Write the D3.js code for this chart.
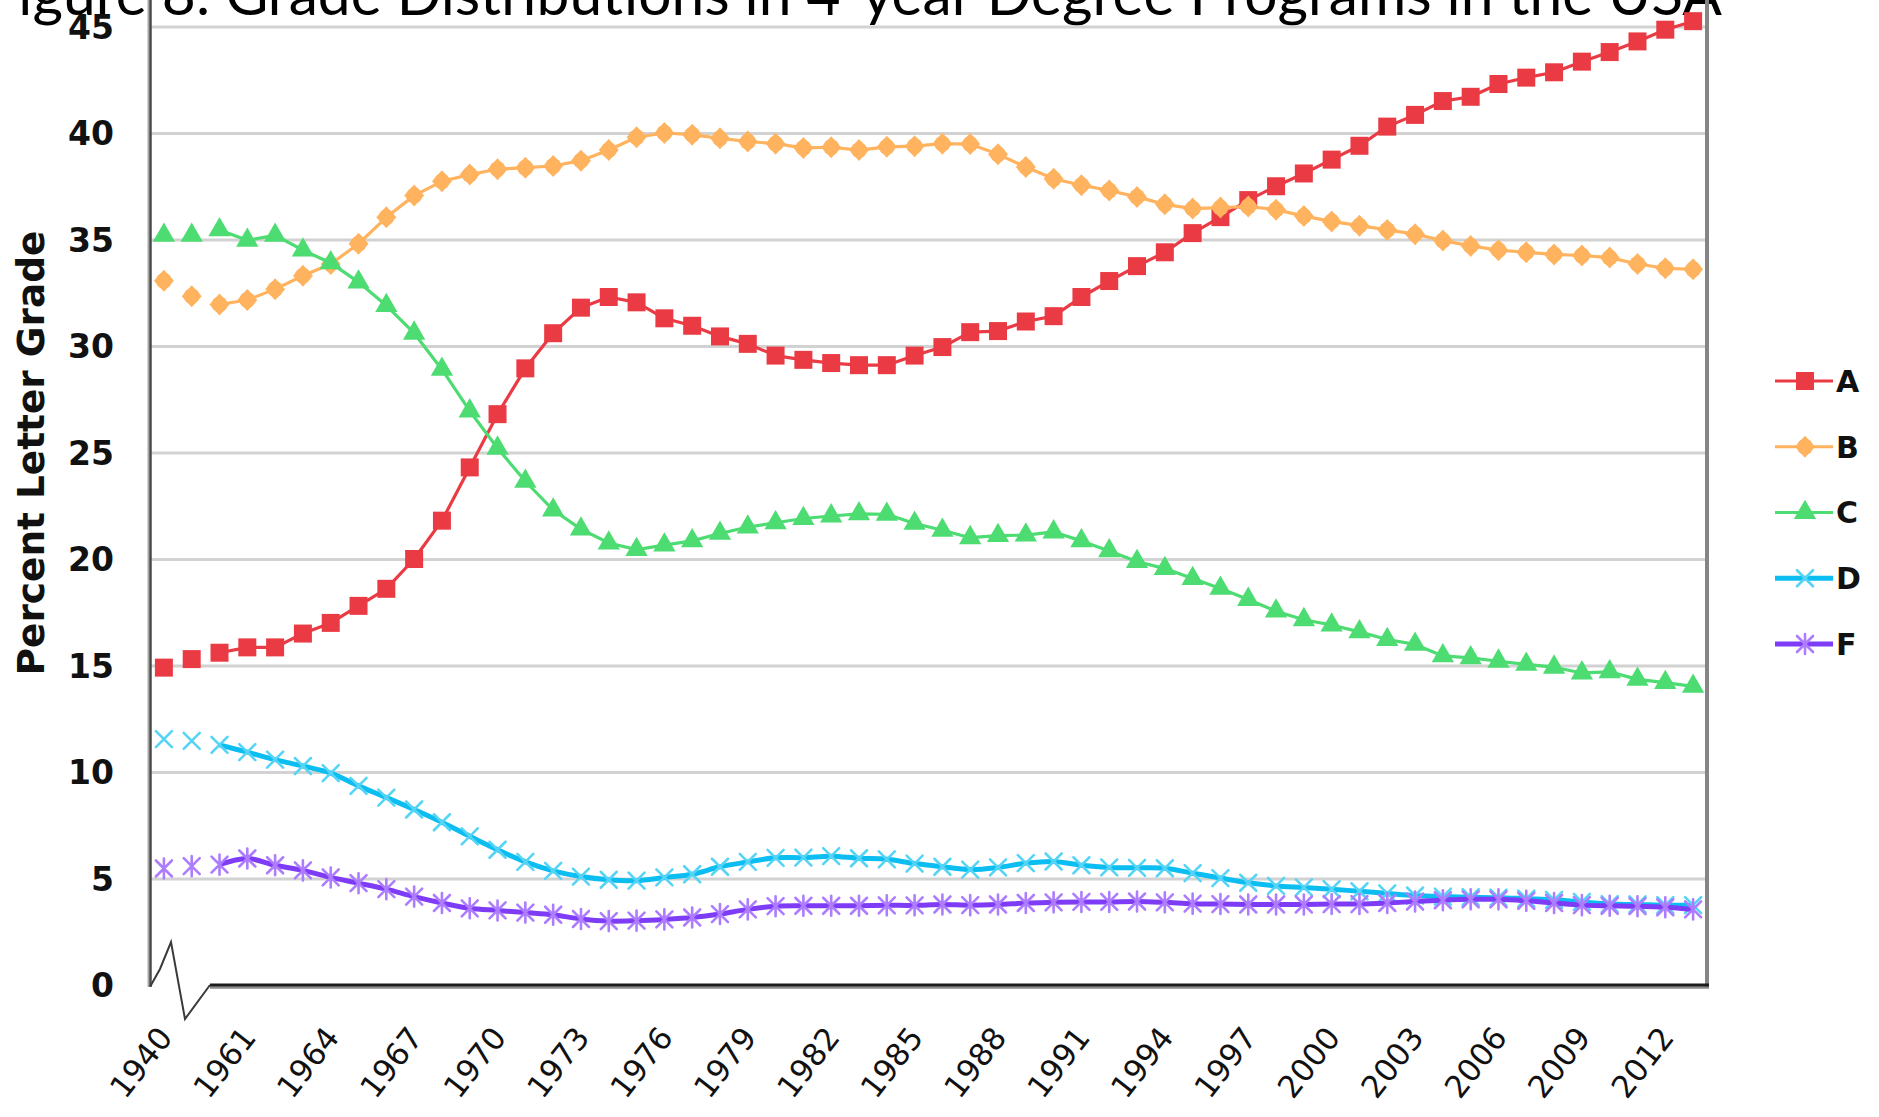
<!DOCTYPE html>
<html>
<head>
<meta charset="utf-8">
<script src="https://cdn.jsdelivr.net/npm/d3@7"></script>
<style>
  html, body { margin: 0; padding: 0; background: #ffffff; overflow: hidden; }
  svg { display: block; }
</style>
</head>
<body>
<svg id="chart" width="1879" height="1117"></svg>
<script>
// Years on the category axis (the first three are isolated early readings)
const years = ["1940","1950","1960","1961","1962","1963","1964","1965","1966","1967",
  "1968","1969","1970","1971","1972","1973","1974","1975","1976","1977",
  "1978","1979","1980","1981","1982","1983","1984","1985","1986","1987",
  "1988","1989","1990","1991","1992","1993","1994","1995","1996","1997",
  "1998","1999","2000","2001","2002","2003","2004","2005","2006","2007",
  "2008","2009","2010","2011","2012","2013"];

// Labelled years on the horizontal axis
const xTickYears = ["1940","1961","1964","1967","1970","1973","1976","1979","1982",
  "1985","1988","1991","1994","1997","2000","2003","2006","2009","2012"];

// Vertical axis ticks (percent)
const yTicks = [0, 5, 10, 15, 20, 25, 30, 35, 40, 45];

// Percent of letter grades awarded, per year
const gradeA = [14.9, 15.3, 15.6, 15.85, 15.85, 16.5, 17.0, 17.8, 18.6, 20.0,
  21.8, 24.3, 26.8, 28.95, 30.6, 31.8, 32.3, 32.05, 31.3, 30.95,
  30.45, 30.1, 29.55, 29.35, 29.2, 29.1, 29.1, 29.55, 29.95, 30.65,
  30.7, 31.15, 31.4, 32.3, 33.05, 33.75, 34.4, 35.3, 36.05, 36.85,
  37.5, 38.1, 38.75, 39.4, 40.3, 40.85, 41.5, 41.7, 42.3, 42.6,
  42.85, 43.35, 43.8, 44.3, 44.85, 45.25];

const gradeB = [33.06, 32.34, 31.95, 32.16, 32.67, 33.3, 33.85, 34.8, 36.04, 37.06,
  37.73, 38.05, 38.3, 38.37, 38.45, 38.7, 39.2, 39.8, 40.0, 39.92,
  39.75, 39.6, 39.5, 39.3, 39.33, 39.2, 39.35, 39.38, 39.5, 39.48,
  39.0, 38.4, 37.85, 37.55, 37.3, 37.0, 36.65, 36.45, 36.5, 36.55,
  36.4, 36.1, 35.85, 35.65, 35.45, 35.25, 34.95, 34.7, 34.5, 34.4,
  34.3, 34.25, 34.15, 33.85, 33.65, 33.6];

const gradeC = [35.2, 35.2, 35.45, 34.96, 35.2, 34.5, 33.9, 33.0, 31.9, 30.6,
  28.9, 26.95, 25.2, 23.65, 22.3, 21.4, 20.75, 20.44, 20.65, 20.85,
  21.2, 21.5, 21.7, 21.9, 22.02, 22.12, 22.1, 21.67, 21.35, 21.0,
  21.1, 21.12, 21.27, 20.85, 20.38, 19.88, 19.55, 19.08, 18.62, 18.1,
  17.55, 17.15, 16.9, 16.58, 16.22, 15.99, 15.45, 15.36, 15.2, 15.05,
  14.92, 14.65, 14.7, 14.35, 14.2, 14.02];

const gradeD = [11.54, 11.46, 11.27, 10.93, 10.58, 10.28, 9.95, 9.35, 8.8, 8.24,
  7.64, 6.98, 6.35, 5.78, 5.36, 5.09, 4.94, 4.9, 5.05, 5.2,
  5.55, 5.78, 5.97, 5.98, 6.05, 5.95, 5.9, 5.7, 5.55, 5.42,
  5.52, 5.72, 5.8, 5.62, 5.52, 5.5, 5.48, 5.25, 5.02, 4.8,
  4.65, 4.58, 4.5, 4.4, 4.3, 4.2, 4.15, 4.12, 4.1, 4.05,
  4.0, 3.9, 3.8, 3.78, 3.75, 3.75];

const gradeF = [5.47, 5.58, 5.65, 5.94, 5.62, 5.38, 5.05, 4.78, 4.5, 4.15,
  3.85, 3.6, 3.5, 3.4, 3.3, 3.1, 3.0, 3.02, 3.08, 3.17,
  3.33, 3.55, 3.7, 3.72, 3.72, 3.72, 3.74, 3.74, 3.78, 3.75,
  3.78, 3.85, 3.88, 3.9, 3.9, 3.92, 3.88, 3.82, 3.8, 3.78,
  3.78, 3.78, 3.8, 3.8, 3.85, 3.92, 3.98, 4.02, 4.02, 3.95,
  3.85, 3.75, 3.72, 3.7, 3.65, 3.55];

const seriesNames = ["A", "B", "C", "D", "F"];

// ---- styling ----
const styles = {
  A: { line: "#ea3b44", mark: "#ea3b44", width: 3.2, shape: "square", smooth: false },
  B: { line: "#ffb35f", mark: "#ffb35f", width: 3.2, shape: "diamond", smooth: false },
  C: { line: "#4ddc72", mark: "#4ddc72", width: 3.2, shape: "triangle", smooth: false },
  D: { line: "#0bbdf0", mark: "#56d4f6", width: 5, shape: "cross", smooth: true },
  F: { line: "#7f3cf7", mark: "#ad7cff", width: 5, shape: "star", smooth: true }
};
const seriesValues = { A: gradeA, B: gradeB, C: gradeC, D: gradeD, F: gradeF };
// The line is only drawn from the first consecutive-year reading onward
const firstJoined = 2;

const svg = d3.select("#chart");
const W = 1879, H = 1117;
svg.append("rect").attr("width", W).attr("height", H).attr("fill", "#ffffff");

const plot = { left: 150, right: 1707, top: 26.5, bottom: 985 };

const x = d3.scaleBand().domain(years).range([plot.left, plot.right]).padding(0);
const cx = yr => x(yr) + x.bandwidth() / 2;
const y = d3.scaleLinear().domain([0, 45]).range([plot.bottom, plot.top]);

// ---- title (runs past the top edge of the canvas) ----
const titleText = "Figure 8: Grade Distributions in 4-year Degree Programs in the USA";
const title = svg.append("text")
  .attr("x", 1722).attr("y", 15)
  .attr("text-anchor", "end")
  .attr("font-family", "Lato, 'Open Sans', sans-serif")
  .attr("font-size", 50)
  .attr("fill", "#000")
  .text(titleText);
// size so that "igure ... USA" spans the visible width
{
  const probe = svg.append("text").attr("font-family", "Lato, 'Open Sans', sans-serif")
    .attr("font-size", 50).text(titleText.slice(1));
  const w = probe.node().getComputedTextLength();
  probe.remove();
  title.attr("font-size", 50 * (1722 - 18) / w);
}

// ---- grid + y axis labels ----
const yAxis = d3.axisLeft(y)
  .tickValues(yTicks)
  .tickSize(-(plot.right - plot.left))
  .tickPadding(36)
  .tickFormat(d3.format("d"));
const gy = svg.append("g").attr("transform", `translate(${plot.left},0)`).call(yAxis);
gy.select(".domain").remove();
gy.selectAll(".tick line")
  .attr("stroke", "#d2d2d2")
  .attr("stroke-width", 3)
  .attr("opacity", d => d === 0 ? 0 : 1);
gy.selectAll(".tick text")
  .attr("font-family", "'DejaVu Sans', Verdana, sans-serif")
  .attr("font-weight", "bold")
  .attr("font-size", 33)
  .attr("fill", "#111")
  .attr("dy", "0.36em");

// ---- y axis title ----
{
  const t = svg.append("text")
    .attr("transform", "translate(44,453) rotate(-90)")
    .attr("text-anchor", "middle")
    .attr("font-family", "'DejaVu Sans', Verdana, sans-serif")
    .attr("font-weight", "bold")
    .attr("font-size", 30)
    .attr("fill", "#111")
    .text("Percent Letter Grade");
  const w = t.node().getComputedTextLength();
  t.attr("font-size", 30 * 445 / w);
}

// ---- frame: left axis, right edge, axis break and baseline ----
svg.append("line").attr("x1", plot.left - 1.5).attr("x2", plot.left - 1.5)
  .attr("y1", 0).attr("y2", plot.bottom + 2)
  .attr("stroke", "#a8a8a8").attr("stroke-width", 2);
svg.append("line").attr("x1", plot.left + 0.5).attr("x2", plot.left + 0.5)
  .attr("y1", 0).attr("y2", plot.bottom + 2)
  .attr("stroke", "#4a4a4a").attr("stroke-width", 2.5);
svg.append("line").attr("x1", plot.right).attr("x2", plot.right)
  .attr("y1", 0).attr("y2", plot.bottom + 3)
  .attr("stroke", "#858585").attr("stroke-width", 4);

const breakLine = d3.line();
svg.append("path")
  .attr("d", breakLine([[plot.left + 0.5, plot.bottom + 1], [160, 969], [171, 942], [185, 1019], [210, plot.bottom]]))
  .attr("fill", "none").attr("stroke", "#3a3a3a").attr("stroke-width", 2)
  .attr("stroke-linejoin", "miter");

svg.append("line").attr("x1", 210).attr("x2", plot.right + 2)
  .attr("y1", plot.bottom + 2.5).attr("y2", plot.bottom + 2.5)
  .attr("stroke", "#8a8a8a").attr("stroke-width", 2.5);
svg.append("line").attr("x1", 210).attr("x2", plot.right + 2)
  .attr("y1", plot.bottom).attr("y2", plot.bottom)
  .attr("stroke", "#1c1c1c").attr("stroke-width", 3);

// ---- x axis labels ----
const xAxis = d3.axisBottom(x).tickValues(xTickYears).tickSize(0).tickPadding(0);
const gx = svg.append("g").attr("transform", `translate(0,${plot.bottom})`).call(xAxis);
gx.select(".domain").remove();
gx.selectAll(".tick text")
  .attr("font-family", "'DejaVu Sans', Verdana, sans-serif")
  .attr("font-size", 31)
  .attr("fill", "#111")
  .attr("text-anchor", "end")
  .attr("y", 0).attr("dy", 0)
  .attr("transform", "translate(10,53) rotate(-52)");

// ---- markers ----
function markerPath(shape) {
  switch (shape) {
    case "square": return d3.symbol(d3.symbolSquare, 18 * 18)();
    case "triangle": return d3.symbol(d3.symbolTriangle, 215)();
    case "diamond": return "M0,-11L10,0L0,11L-10,0Z";
    case "cross": return "M-8,-8L8,8M-8,8L8,-8";
    case "star": return "M-8,-8L8,8M-8,8L8,-8M0,-10L0,10";
  }
}
function drawMarkers(g, shape, color, pts) {
  const m = g.selectAll(".m").data(pts).join("g")
    .attr("class", "m")
    .attr("transform", d => `translate(${d[0]},${d[1]})`);
  if (shape === "cross" || shape === "star") {
    m.append("path").attr("d", markerPath(shape))
      .attr("fill", "none").attr("stroke", color).attr("stroke-width", 2.6)
      .attr("stroke-linecap", "round");
  } else {
    m.append("path").attr("d", markerPath(shape)).attr("fill", color);
    if (shape === "diamond") m.append("circle").attr("r", 8).attr("fill", color);
  }
}

// ---- series ----
seriesNames.forEach(name => {
  const st = styles[name];
  const vals = seriesValues[name];
  const pts = years.map((yr, i) => [cx(yr), y(vals[i])]);
  const g = svg.append("g").attr("class", "series-" + name);
  const line = d3.line().curve(st.smooth ? d3.curveCatmullRom.alpha(0.5) : d3.curveLinear);
  g.append("path")
    .attr("d", line(pts.slice(firstJoined)))
    .attr("fill", "none")
    .attr("stroke", st.line)
    .attr("stroke-width", st.width)
    .attr("stroke-linejoin", "round");
  drawMarkers(g, st.shape, st.mark, pts);
});

// ---- legend ----
const legendRowY = d3.scalePoint().domain(seriesNames).range([381, 644]);
const lg = svg.append("g");
seriesNames.forEach(name => {
  const st = styles[name];
  const ry = legendRowY(name);
  const row = lg.append("g");
  row.append("line").attr("x1", 1775).attr("x2", 1833).attr("y1", ry).attr("y2", ry)
    .attr("stroke", st.line).attr("stroke-width", st.width);
  drawMarkers(row, st.shape, st.mark, [[1805, ry]]);
  row.append("text")
    .attr("x", 1836).attr("y", ry).attr("dy", "0.36em")
    .attr("font-family", "'DejaVu Sans', Verdana, sans-serif")
    .attr("font-weight", "bold").attr("font-size", 30)
    .attr("fill", "#111")
    .text(name);
});
</script>
</body>
</html>
